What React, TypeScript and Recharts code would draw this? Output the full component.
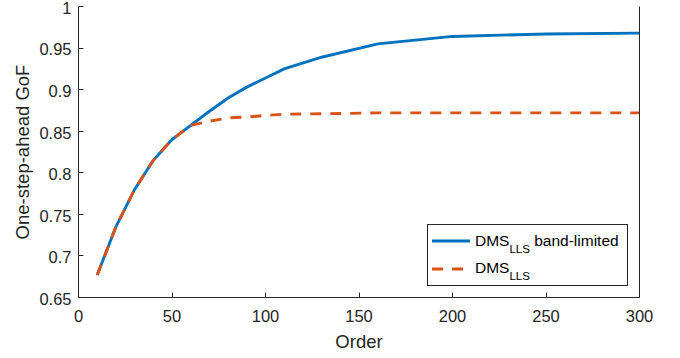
import React from "react";
import { LineChart, Line, XAxis, YAxis, Legend } from "recharts";

// Model order vs. one-step-ahead goodness of fit
const orders = [10, 20, 30, 40, 50, 60, 70, 80, 90, 100, 110, 130, 160, 200, 250, 300];
const bandLimited = [
  0.677, 0.735, 0.78, 0.815, 0.84, 0.857, 0.874, 0.89, 0.903, 0.914, 0.925, 0.939, 0.955,
  0.964, 0.967, 0.968,
];
const plain = [
  0.677, 0.735, 0.78, 0.815, 0.84, 0.857, 0.862, 0.866, 0.867, 0.869, 0.8705, 0.871, 0.872,
  0.872, 0.872, 0.872,
];
const xTicks = [0, 50, 100, 150, 200, 250, 300];
const yTicks = [0.65, 0.7, 0.75, 0.8, 0.85, 0.9, 0.95, 1];
const legendLabels = [
  { main: "DMS", sub: "LLS", rest: " band-limited" },
  { main: "DMS", sub: "LLS", rest: "" },
];

const data = orders.map((order, i) => ({
  order,
  bandLimited: bandLimited[i],
  plain: plain[i],
}));

const AXIS = "#262626";
const BLUE = "#0072BD";
const ORANGE = "#D95319";
const DASH = "11 9";
const LINE_W = 2.9;
const FONT = 16.5;
const TICK_LEN = 5;
const seriesStyle = [
  { color: BLUE, dash: undefined as string | undefined },
  { color: ORANGE, dash: DASH },
];

// snap a coordinate to the pixel grid so 1px lines stay crisp
const crisp = (v: number) => Math.floor(v) + 0.5;

// MATLAB-style inward ticks, drawn by a custom tick renderer
type Side = "bottom" | "left" | "top" | "right";
const makeTick = (side: Side, margin: number, withLabel: boolean) => (props: any) => {
  const { x, y, payload } = props;
  let line = null;
  let label = null;
  if (side === "bottom") {
    const ay = y - margin;
    const cx = crisp(x);
    line = <line x1={cx} x2={cx} y1={ay} y2={ay - TICK_LEN} stroke={AXIS} />;
    if (withLabel)
      label = (
        <text x={x} y={y} dy="0.71em" textAnchor="middle" fill={AXIS} fontSize={FONT}>
          {payload.value}
        </text>
      );
  } else if (side === "left") {
    const ax = x + margin;
    const cy = crisp(y);
    line = <line x1={ax} x2={ax + TICK_LEN} y1={cy} y2={cy} stroke={AXIS} />;
    if (withLabel)
      label = (
        <text x={x} y={y + 1.5} dy="0.355em" textAnchor="end" fill={AXIS} fontSize={FONT}>
          {payload.value}
        </text>
      );
  } else if (side === "top") {
    const ay = y + margin;
    const cx = crisp(x);
    line = <line x1={cx} x2={cx} y1={ay} y2={ay + TICK_LEN} stroke={AXIS} />;
  } else {
    const ax = x - margin;
    const cy = crisp(y);
    line = <line x1={ax} x2={ax - TICK_LEN} y1={cy} y2={cy} stroke={AXIS} />;
  }
  return (
    <g>
      {line}
      {label}
    </g>
  );
};

const renderLegend = () => (
  <svg width={201} height={62}>
    <rect x={0.5} y={0.5} width={200} height={61} fill="#fff" stroke={AXIS} strokeWidth={1} />
    {legendLabels.map((label, i) => {
      const s = seriesStyle[i];
      return (
        <g key={i}>
          <line
            x1={5}
            x2={43}
            y1={17 + 28 * i}
            y2={17 + 28 * i}
            stroke={s.color}
            strokeWidth={LINE_W}
            strokeDasharray={s.dash}
          />
          <text x={48} y={22 + 27 * i} fill="#000">
            <tspan fontSize={15.5}>{label.main}</tspan>
            <tspan fontSize={11.5} dy={7}>
              {label.sub}
            </tspan>
            {label.rest && (
              <tspan fontSize={15.5} dy={-7}>
                {label.rest}
              </tspan>
            )}
          </text>
        </g>
      );
    })}
  </svg>
);

export default function App() {
  return (
    <div
      style={{
        position: "absolute",
        left: 0,
        top: 0,
        fontFamily: "'Liberation Sans', Arial, Helvetica, sans-serif",
        background: "#fff",
      }}
    >
      <LineChart width={680} height={358} data={data} margin={{ top: 6.5, right: 0, bottom: 0, left: 0 }}>
        <XAxis
          dataKey="order"
          type="number"
          domain={[0, 300]}
          ticks={xTicks}
          interval={0}
          height={60.5}
          stroke={AXIS}
          tickLine={false}
          tickSize={0}
          tickMargin={13}
          tick={makeTick("bottom", 13, true)}
          label={{ value: "Order", position: "insideBottom", offset: 10, fill: AXIS, fontSize: 18.5 }}
        />
        <XAxis
          xAxisId="top"
          orientation="top"
          dataKey="order"
          type="number"
          domain={[0, 300]}
          ticks={xTicks}
          interval={0}
          height={0}
          stroke={AXIS}
          tickLine={false}
          tickSize={0}
          tickMargin={0}
          tick={makeTick("top", 0, false)}
        />
        <YAxis
          type="number"
          domain={[0.65, 1]}
          ticks={yTicks}
          interval={0}
          width={78.5}
          stroke={AXIS}
          tickLine={false}
          tickSize={0}
          tickMargin={7}
          tick={makeTick("left", 7, true)}
          label={{
            value: "One-step-ahead GoF",
            angle: -90,
            position: "insideLeft",
            offset: 22.5,
            fill: AXIS,
            fontSize: 18.5,
            style: { textAnchor: "middle" },
          }}
        />
        <YAxis
          yAxisId="right"
          orientation="right"
          type="number"
          domain={[0.65, 1]}
          ticks={yTicks}
          interval={0}
          width={40.5}
          stroke={AXIS}
          tickLine={false}
          tickSize={0}
          tickMargin={0}
          tick={makeTick("right", 0, false)}
        />
        <Line
          type="linear"
          dataKey="bandLimited"
          name="DMS band-limited"
          stroke={BLUE}
          strokeWidth={LINE_W}
          dot={false}
          isAnimationActive={false}
        />
        <Line
          type="linear"
          dataKey="plain"
          name="DMS"
          stroke={ORANGE}
          strokeWidth={LINE_W}
          strokeDasharray={DASH}
          dot={false}
          isAnimationActive={false}
        />
        <Legend
          layout="horizontal"
          verticalAlign="middle"
          align="center"
          content={renderLegend}
          wrapperStyle={{ left: 427, top: 224, width: 201, height: 62 }}
        />
      </LineChart>
    </div>
  );
}
